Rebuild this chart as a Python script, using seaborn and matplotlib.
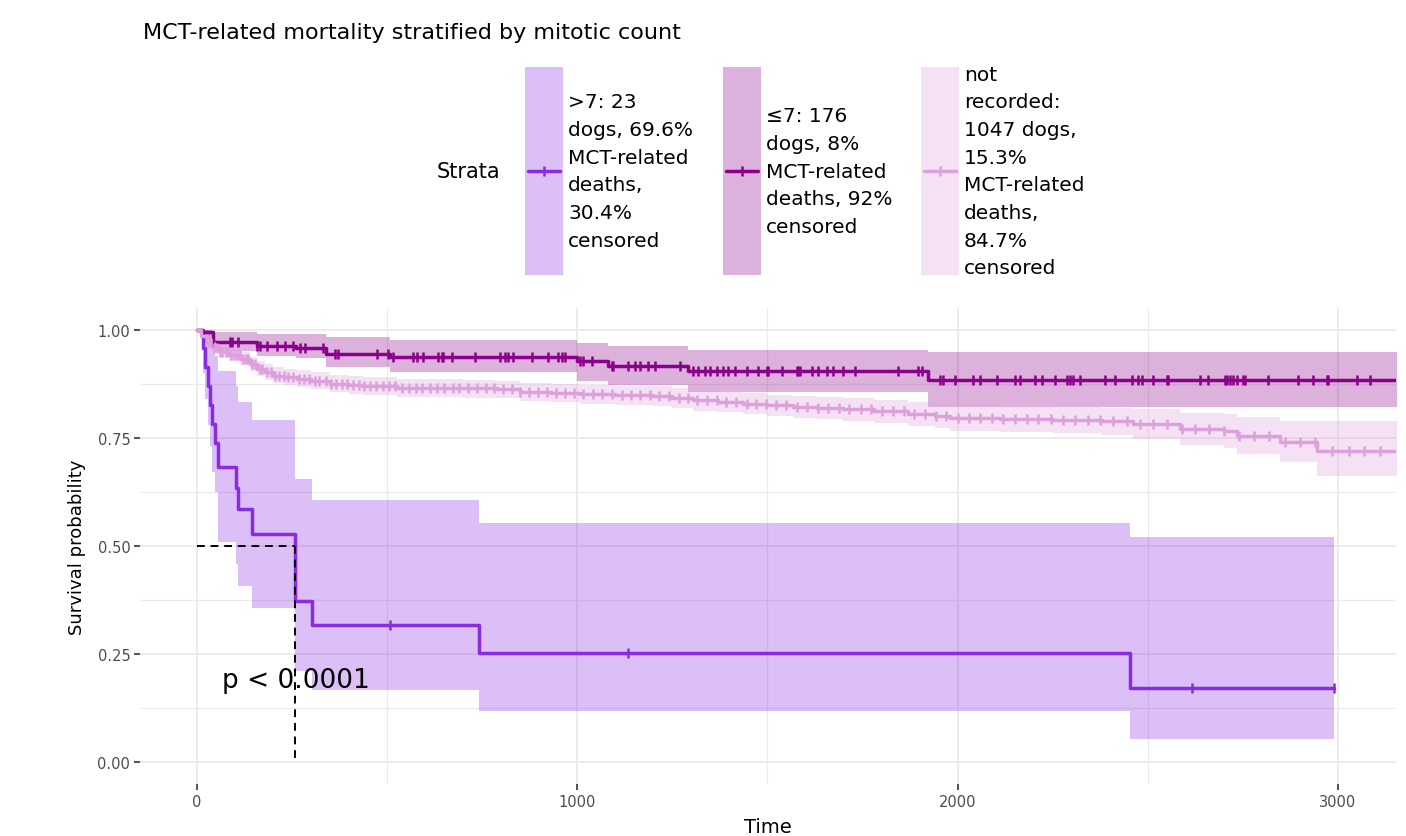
import matplotlib
matplotlib.use("Agg")
import matplotlib.pyplot as plt
import numpy as np
import pandas as pd
import seaborn as sns
from matplotlib.lines import Line2D
from matplotlib.patches import Rectangle

# ---- data ----
strata = [">7", "≤7", "not recorded"]
colors = ["#8A2BE2", "#8B008B", "#DDA0DD"]
legend_labels = [
    ">7: 23\ndogs, 69.6%\nMCT-related\ndeaths,\n30.4%\ncensored",
    "≤7: 176\ndogs, 8%\nMCT-related\ndeaths, 92%\ncensored",
    "not\nrecorded:\n1047 dogs,\n15.3%\nMCT-related\ndeaths,\n84.7%\ncensored",
]

# >7
hi_time = [0, 16, 22, 28, 34, 40, 47, 55, 103, 108, 144, 258, 303, 741, 2453]
hi_surv = [1.0, 0.957, 0.913, 0.870, 0.826, 0.783, 0.739, 0.683, 0.635, 0.586, 0.528, 0.373, 0.317, 0.252, 0.171]
hi_upper = [1.0, 1.0, 1.0, 0.99, 0.975, 0.96, 0.94, 0.905, 0.87, 0.833, 0.792, 0.655, 0.606, 0.553, 0.52]
hi_lower = [1.0, 0.90, 0.84, 0.78, 0.73, 0.67, 0.625, 0.51, 0.458, 0.407, 0.356, 0.21, 0.167, 0.118, 0.055]
hi_end = 2990
hi_cens = [507, 1133, 2616, 2990]

# <=7
le_time = [0, 12, 42, 158, 260, 340, 507, 999, 1081, 1291, 1922]
le_surv = [1.0, 0.994, 0.972, 0.963, 0.958, 0.944, 0.937, 0.928, 0.916, 0.905, 0.884]
le_upper = [1.0, 1.0, 0.995, 0.99, 0.99, 0.983, 0.975, 0.968, 0.962, 0.954, 0.949]
le_lower = [1.0, 0.97, 0.951, 0.94, 0.935, 0.914, 0.902, 0.882, 0.872, 0.856, 0.822]
le_end = 3160
le_cens = [42, 87, 92, 108, 158, 166, 184, 210, 231, 252, 271, 284, 331, 363, 371,
           473, 502, 515, 568, 578, 594, 634, 644, 647, 671, 731, 797, 810, 818,
           831, 881, 923, 949, 960, 968, 1007, 1015, 1039, 1091, 1094, 1133, 1152,
           1165, 1186, 1204, 1270, 1304, 1317, 1336, 1349, 1367, 1383, 1396, 1415,
           1446, 1475, 1499, 1501, 1538, 1578, 1580, 1586, 1617, 1633, 1657, 1672,
           1699, 1730, 1843, 1896, 1906, 1954, 1962, 1993, 2040, 2059, 2104, 2151,
           2164, 2204, 2222, 2256, 2288, 2296, 2303, 2322, 2388, 2414, 2459, 2474,
           2485, 2514, 2551, 2553, 2637, 2658, 2703, 2708, 2716, 2724, 2735, 2750,
           2756, 2816, 2895, 2935, 2971, 2974, 3050, 3084]

# not recorded
nr_time = [0, 10, 26, 45, 60, 85, 113, 140, 158, 180, 200, 230, 263, 300, 350, 400,
           437, 526, 607, 700, 789, 849, 930, 1007, 1100, 1199, 1250, 1304, 1370,
           1436, 1500, 1567, 1630, 1699, 1780, 1870, 1940, 1980, 2111, 2250, 2380,
           2461, 2585, 2700, 2735, 2848, 2945]
nr_surv = [1.0, 0.985, 0.968, 0.957, 0.949, 0.941, 0.933, 0.921, 0.91, 0.902, 0.894,
           0.890, 0.887, 0.881, 0.875, 0.872, 0.870, 0.866, 0.865, 0.864, 0.862,
           0.856, 0.854, 0.851, 0.849, 0.847, 0.843, 0.837, 0.833, 0.829, 0.826,
           0.822, 0.820, 0.817, 0.812, 0.806, 0.801, 0.796, 0.794, 0.792, 0.789,
           0.782, 0.771, 0.766, 0.755, 0.741, 0.72]
nr_upper = [1.0, 0.993, 0.979, 0.969, 0.962, 0.955, 0.948, 0.937, 0.927, 0.920, 0.913,
            0.909, 0.906, 0.901, 0.895, 0.892, 0.890, 0.886, 0.885, 0.884, 0.882,
            0.877, 0.875, 0.872, 0.870, 0.869, 0.865, 0.860, 0.856, 0.853, 0.850,
            0.847, 0.845, 0.843, 0.838, 0.833, 0.829, 0.825, 0.823, 0.822, 0.820,
            0.816, 0.808, 0.804, 0.797, 0.790, 0.789]
nr_lower = [1.0, 0.978, 0.958, 0.945, 0.936, 0.927, 0.918, 0.905, 0.893, 0.884, 0.876,
            0.871, 0.868, 0.862, 0.855, 0.852, 0.850, 0.845, 0.844, 0.843, 0.841,
            0.834, 0.832, 0.829, 0.826, 0.824, 0.820, 0.813, 0.809, 0.804, 0.801,
            0.796, 0.794, 0.790, 0.785, 0.778, 0.772, 0.766, 0.764, 0.761, 0.757,
            0.748, 0.733, 0.727, 0.713, 0.695, 0.662]
nr_end = 3160
nr_cens = [30, 38, 45, 52, 60, 66, 75, 82, 90, 98, 105, 112, 120, 128, 135, 145, 152,
           165, 172, 185, 195, 205, 215, 228, 240, 252, 268, 280, 295, 310, 322, 338,
           352, 365, 380, 395, 410, 425, 440, 455, 470, 488, 505, 520, 540, 558, 575,
           592, 612, 630, 650, 672, 690, 712, 735, 760, 782, 805, 828, 850, 872, 897,
           920, 945, 968, 992, 1015, 1040, 1065, 1090, 1118, 1140, 1165, 1190, 1215,
           1240, 1268, 1290, 1315, 1340, 1368, 1390, 1418, 1445, 1470, 1495, 1522,
           1550, 1578, 1605, 1632, 1660, 1688, 1715, 1745, 1772, 1800, 1830, 1858,
           1885, 1915, 1942, 1970, 2000, 2030, 2058, 2090, 2120, 2150, 2182, 2212,
           2245, 2278, 2310, 2342, 2375, 2410, 2445, 2480, 2515, 2550, 2590, 2625,
           2660, 2700, 2740, 2780, 2820, 2860, 2900, 2940, 2985, 3030, 3070, 3110]

curves = [
    (hi_time, hi_surv, hi_upper, hi_lower, hi_end, hi_cens),
    (le_time, le_surv, le_upper, le_lower, le_end, le_cens),
    (nr_time, nr_surv, nr_upper, nr_lower, nr_end, nr_cens),
]

# ---- figure ----
W, H = 1406, 837
sns.set_theme(style="white")
plt.rcParams["font.family"] = ["DejaVu Sans"]
plt.rcParams["text.color"] = "black"
plt.rcParams["axes.labelcolor"] = "black"

fig = plt.figure(figsize=(W / 100, H / 100), dpi=100)
ax = fig.add_axes([140 / W, 1 - 785 / H, 1256 / W, 476 / H])

rows = []
for name, (t, s, up, lo, end, cens) in zip(strata, curves):
    t_ext = list(t) + [end]
    for x, y in zip(t_ext, list(s) + [s[-1]]):
        rows.append({"time": x, "surv": y, "strata": name})
df = pd.DataFrame(rows)

# confidence bands
for name, col, (t, s, up, lo, end, cens) in zip(strata, colors, curves):
    t_ext = list(t) + [end]
    ax.fill_between(t_ext, list(lo) + [lo[-1]], list(up) + [up[-1]],
                    step="post", color=col, alpha=0.3, linewidth=0)

sns.lineplot(data=df, x="time", y="surv", hue="strata", hue_order=strata,
             palette=colors, estimator=None, sort=False, drawstyle="steps-post",
             linewidth=2.5, legend=False, ax=ax)

# censor marks
for col, (t, s, up, lo, end, cens) in zip(colors, curves):
    idx = np.searchsorted(np.array(t), np.array(cens), side="right") - 1
    ax.plot(cens, np.array(s)[idx], ls="none", marker="|", ms=6.5, mew=1.8, color=col)

# median line for >7
t_med = hi_time[int(np.argmax(np.array(hi_surv) <= 0.5))]
ax.plot([0, t_med], [0.5, 0.5], ls=(0, (4, 3)), color="black", lw=1.4)
ax.plot([t_med, t_med], [0.5, 0], ls=(0, (4, 3)), color="black", lw=1.4)

ax.text(66, 0.19, "p < 0.0001", fontsize=19, va="center", ha="left", color="black")

ax.set_xlim(-150, 3153)
ax.set_ylim(-0.05, 1.05)
ax.set_xticks([0, 1000, 2000, 3000])
ax.set_xticks([500, 1500, 2500], minor=True)
ax.set_yticks([0, 0.25, 0.5, 0.75, 1.0])
ax.set_yticks([0.125, 0.375, 0.625, 0.875], minor=True)
ax.set_yticklabels(["0.00", "0.25", "0.50", "0.75", "1.00"])
ax.grid(True, which="major", color="#EBEBEB", lw=1.3)
ax.grid(True, which="minor", color="#EBEBEB", lw=0.9)
ax.set_axisbelow(True)
for sp in ax.spines.values():
    sp.set_visible(False)
ax.tick_params(axis="both", which="major", length=4, width=1.2, color="#333333",
               labelcolor="#4D4D4D", labelsize=10.5, pad=3, bottom=True, left=True)
ax.tick_params(axis="both", which="minor", length=0)
ax.set_xlabel("Time", fontsize=14, labelpad=6)
ax.set_ylabel("Survival probability", fontsize=13, labelpad=8)

fig.text(143 / W, 1 - 33 / H, "MCT-related mortality stratified by mitotic count",
         fontsize=16, va="center", ha="left")

# ---- legend (ggplot style, drawn in figure pixels) ----
def fx(px):
    return px / W


def fy(py):
    return 1 - py / H


fig.text(fx(437), fy(172), "Strata", fontsize=15, va="center", ha="left")
key_left = [525, 723, 921]
for name, col, kl, lab in zip(strata, colors, key_left, legend_labels):
    fig.add_artist(Rectangle((fx(kl), fy(276)), fx(38), 208 / H, transform=fig.transFigure,
                             facecolor=col, alpha=0.3, edgecolor="none"))
    fig.add_artist(Line2D([fx(kl + 3), fx(kl + 35)], [fy(172), fy(172)],
                          transform=fig.transFigure, color=col, lw=2.5))
    fig.add_artist(Line2D([fx(kl + 19)], [fy(172)], transform=fig.transFigure,
                          color=col, marker="|", ms=6.5, mew=1.8))
    fig.text(fx(kl + 43), fy(172), lab, fontsize=14.5, va="center", ha="left",
             linespacing=1.58)

fig.savefig("out.png", dpi=100)
